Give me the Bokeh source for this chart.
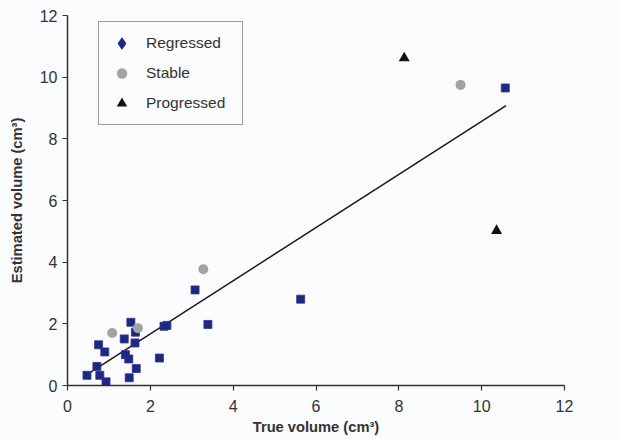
from bokeh.plotting import figure
from bokeh.models import Range1d, Legend, LegendItem, ColumnDataSource, CDSView, IndexFilter
from bokeh.embed import file_html
from bokeh.resources import INLINE

# ---- data ----
reg_x = [0.47, 0.78, 0.93, 0.71, 0.75, 0.90, 1.37, 1.53, 1.64, 1.63, 1.40,
         1.48, 1.66, 1.49, 2.22, 2.33, 2.40, 3.08, 3.39, 5.63, 10.57]
reg_y = [0.33, 0.33, 0.12, 0.62, 1.32, 1.09, 1.51, 2.05, 1.73, 1.38, 1.00,
         0.86, 0.55, 0.25, 0.89, 1.92, 1.95, 3.10, 1.98, 2.80, 9.65]

stable_x = [1.08, 1.70, 3.28, 9.49]
stable_y = [1.70, 1.86, 3.77, 9.75]

prog_x = [8.13, 10.36]
prog_y = [10.62, 5.02]

fit_x = [0.43, 10.59]
fit_y = [0.32, 9.08]

ticks = [0, 2, 4, 6, 8, 10, 12]

x_label = "True volume (cm³)"
y_label = "Estimated volume (cm³)"

# ---- styling ----
BG = "#fafbfd"
NAVY = "#1b2a80"
GRAY = "#a3a3a3"
INK = "#333333"
FONT = "Liberation Sans"

p = figure(width=621, height=439, output_backend="svg", toolbar_location=None,
           x_range=Range1d(0, 12), y_range=Range1d(0, 12),
           min_border_left=67, min_border_right=57,
           min_border_top=15, min_border_bottom=54)

p.background_fill_color = BG
p.border_fill_color = BG
p.outline_line_color = None
p.grid.visible = False

for ax in (p.xaxis[0], p.yaxis[0]):
    ax.ticker = ticks
    ax.axis_line_color = INK
    ax.axis_line_width = 1.5
    ax.major_tick_line_color = INK
    ax.major_tick_line_width = 1.2
    ax.major_tick_in = 0
    ax.major_tick_out = 5
    ax.minor_tick_line_color = None
    ax.major_label_text_font = FONT
    ax.major_label_text_font_size = "16px"
    ax.major_label_text_color = INK
    ax.axis_label_text_font = FONT
    ax.axis_label_text_font_size = "14.7px"
    ax.axis_label_text_font_style = "bold"
    ax.axis_label_text_color = INK

p.xaxis.axis_label = x_label
p.yaxis.axis_label = y_label
p.xaxis.major_label_standoff = 9
p.xaxis.axis_label_standoff = 4
p.yaxis.major_label_standoff = 5
p.yaxis.axis_label_standoff = 12

# regression line
p.line(fit_x, fit_y, line_color="#1a1a1a", line_width=1.5)

reg_src = ColumnDataSource(data=dict(x=reg_x, y=reg_y))

# legend-only diamond for "Regressed": one small diamond hidden under its square
r_leg = p.scatter("x", "y", source=reg_src, view=CDSView(filter=IndexFilter(indices=[0])),
                  marker="diamond", size=5, fill_color=NAVY, line_color=NAVY,
                  line_width=1.5, line_join="round")

# data points
p.scatter("x", "y", source=reg_src, marker="square", size=8,
          fill_color=NAVY, line_color="#3b2f8f", line_width=0.8)
r_stable = p.scatter(stable_x, stable_y, marker="circle", size=10,
                     fill_color=GRAY, line_color=None)
r_prog = p.scatter(prog_x, prog_y, marker="triangle", size=11,
                   fill_color="#111111", line_color=None)

legend = Legend(items=[
    LegendItem(label="Regressed", renderers=[r_leg]),
    LegendItem(label="Stable", renderers=[r_stable]),
    LegendItem(label="Progressed", renderers=[r_prog]),
], location=(31, 260))
legend.margin = 0
legend.padding = 8
legend.glyph_height = 26
legend.glyph_width = 29
legend.label_height = 26
legend.label_width = 88
legend.spacing = 4
legend.label_standoff = 10
legend.label_text_font = FONT
legend.label_text_font_size = "15.5px"
legend.label_text_color = INK
legend.border_line_color = "#4a3838"
legend.border_line_width = 1.8
legend.background_fill_color = BG
legend.background_fill_alpha = 1.0
p.add_layout(legend)

open("out.html", "w").write(file_html(p, INLINE))
